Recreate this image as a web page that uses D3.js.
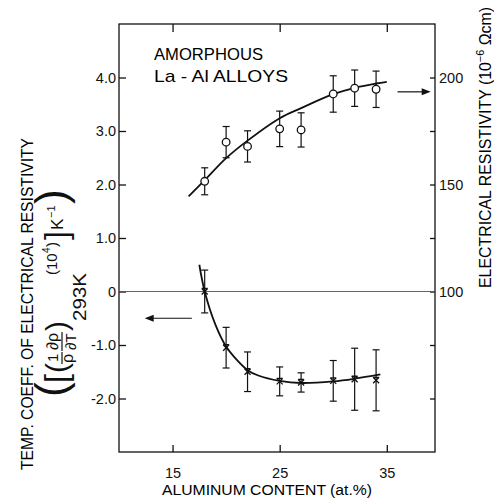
<!DOCTYPE html>
<html>
<head>
<meta charset="utf-8">
<script src="https://cdn.jsdelivr.net/npm/d3@7"></script>
<style>
  html, body { margin: 0; padding: 0; background: #fff; }
  svg { display: block; font-family: "Liberation Sans", Arial, sans-serif; }
</style>
</head>
<body>
<div id="main"></div>
<script>
'use strict';

var width = 494, height = 499;

// aluminium content (at.%)
var alContent = [18, 20, 22, 25, 27, 30, 32, 34];
// electrical resistivity (10^-6 ohm cm), open circles, right axis
var resistivity = [151.5, 169.8, 167.8, 176, 175.5, 192.3, 195, 194.5];
var resistivityErr = [6.3, 7.3, 7.3, 8.3, 8, 8.5, 8.5, 8.5];
// temp. coeff. of resistivity (10^4 K^-1), crosses, left axis
var tcr = [0, -1.05, -1.5, -1.68, -1.70, -1.67, -1.64, -1.66];
var tcrErr = [0.4, 0.38, 0.37, 0.27, 0.18, 0.38, 0.58, 0.57];

// hand drawn fit curves
var resFitX = [16.5, 18, 20, 22, 25, 27, 30, 32, 34, 35];
var resFitY = [144.4, 152, 162.3, 170.5, 181, 185.7, 192.2, 195.2, 197.2, 198];
var tcrFitX = [17.5, 18, 19, 20, 21, 22, 23, 25, 27, 30, 32, 34.4];
var tcrFitY = [0.5, 0, -0.62, -1.03, -1.28, -1.47, -1.57, -1.67, -1.71, -1.68, -1.63, -1.55];

var xTicks = [15, 25, 35];
var leftTicks = [-2, -1, 0, 1, 2, 3, 4];
var leftTickLabels = ["-2.0", "-1.0", "0", "1.0", "2.0", "3.0", "4.0"];
var rightTicks = [50, 75, 100, 125, 150, 175, 200];
var rightTickLabels = ["", "", "100", "", "150", "", "200"];

var svg = d3.select('#main').append('svg')
  .attr('width', width).attr('height', height);

var x = d3.scaleLinear().domain([10, 39.5]).range([119, 435]);
var yL = d3.scaleLinear().domain([-3, 5]).range([452, 24]);
var yR = d3.scaleLinear().domain([25, 225]).range([452, 24]);

// frame
svg.append('rect')
  .attr('x', x(10)).attr('y', yL(5))
  .attr('width', x(39.5) - x(10)).attr('height', yL(-3) - yL(5))
  .attr('fill', 'none').attr('stroke', '#111').attr('stroke-width', 1.3);

// axes (ticks point inward)
function styleAxis(g) {
  g.select('.domain').remove();
  g.selectAll('.tick line').attr('stroke', '#111').attr('stroke-width', 1.3);
  g.selectAll('.tick text').attr('fill', '#111').attr('font-size', 14.5);
}

svg.append('g').attr('transform', 'translate(0,452)')
  .call(d3.axisBottom(x).tickValues(xTicks).tickSizeInner(-7).tickSizeOuter(0).tickPadding(16))
  .call(styleAxis);
svg.append('g').attr('transform', 'translate(0,24)')
  .call(d3.axisTop(x).tickValues(xTicks).tickSizeInner(-8).tickSizeOuter(0).tickFormat(''))
  .call(styleAxis);
svg.append('g').attr('transform', 'translate(119,0)')
  .call(d3.axisLeft(yL).tickValues(leftTicks).tickSizeInner(-7).tickSizeOuter(0).tickPadding(3)
    .tickFormat(function(d, i) { return leftTickLabels[i]; }))
  .call(styleAxis);
svg.append('g').attr('transform', 'translate(435,0)')
  .call(d3.axisRight(yR).tickValues(rightTicks).tickSizeInner(-5).tickSizeOuter(0).tickPadding(4)
    .tickFormat(function(d, i) { return rightTickLabels[i]; }))
  .call(styleAxis);

// zero line
svg.append('line')
  .attr('x1', x(10)).attr('x2', x(39.5)).attr('y1', yL(0)).attr('y2', yL(0))
  .attr('stroke', '#555').attr('stroke-width', 0.9);

// fit curves
var line = d3.line().curve(d3.curveCatmullRom.alpha(0.5));
svg.append('path')
  .attr('d', line(resFitX.map(function(v, i) { return [x(v), yR(resFitY[i])]; })))
  .attr('fill', 'none').attr('stroke', '#111').attr('stroke-width', 1.8);
svg.append('path')
  .attr('d', line(tcrFitX.map(function(v, i) { return [x(v), yL(tcrFitY[i])]; })))
  .attr('fill', 'none').attr('stroke', '#111').attr('stroke-width', 1.8);

// error bars
function errorBars(ys, errs, scale) {
  var g = svg.append('g').attr('stroke', '#111').attr('stroke-width', 1.2);
  alContent.forEach(function(a, i) {
    var cx = x(a), top = scale(ys[i] + errs[i]), bot = scale(ys[i] - errs[i]);
    g.append('line').attr('x1', cx).attr('x2', cx).attr('y1', top).attr('y2', bot);
    g.append('line').attr('x1', cx - 3.5).attr('x2', cx + 3.5).attr('y1', top).attr('y2', top);
    g.append('line').attr('x1', cx - 3.5).attr('x2', cx + 3.5).attr('y1', bot).attr('y2', bot);
  });
}
errorBars(resistivity, resistivityErr, yR);
errorBars(tcr, tcrErr, yL);

// open circles
svg.append('g').selectAll('circle')
  .data(alContent).enter().append('circle')
  .attr('cx', function(d) { return x(d); })
  .attr('cy', function(d, i) { return yR(resistivity[i]); })
  .attr('r', 3.8)
  .attr('fill', '#fff').attr('stroke', '#111').attr('stroke-width', 1.3);

// crosses
svg.append('g').selectAll('path')
  .data(alContent).enter().append('path')
  .attr('d', function(d, i) {
    var cx = x(d), cy = yL(tcr[i]), s = 3;
    return 'M' + (cx - s) + ',' + (cy - s) + 'L' + (cx + s) + ',' + (cy + s) +
      'M' + (cx + s) + ',' + (cy - s) + 'L' + (cx - s) + ',' + (cy + s) +
      'M' + (cx - s) + ',' + (cy - s) + 'L' + (cx + s) + ',' + (cy - s);
  })
  .attr('fill', 'none').attr('stroke', '#111').attr('stroke-width', 1.3);

// arrows
function arrow(x1, x2, yv) {
  var dir = x2 > x1 ? 1 : -1;
  var tip = x(x2), yy = yv;
  svg.append('line').attr('x1', x(x1)).attr('x2', tip - dir * 6).attr('y1', yy).attr('y2', yy)
    .attr('stroke', '#111').attr('stroke-width', 1.2);
  svg.append('path')
    .attr('d', 'M' + tip + ',' + yy + 'L' + (tip - dir * 9) + ',' + (yy - 3.5) + 'L' + (tip - dir * 9) + ',' + (yy + 3.5) + 'Z')
    .attr('fill', '#111');
}
arrow(36.0, 39.1, yR(193.3));
arrow(16.8, 12.4, yL(-0.5));

// title
svg.append('text').attr('x', 154).attr('y', 60).attr('font-size', 17)
  .attr('textLength', 109).attr('lengthAdjust', 'spacingAndGlyphs').text('AMORPHOUS');
svg.append('text').attr('x', 154).attr('y', 81.5).attr('font-size', 17)
  .attr('textLength', 134).attr('lengthAdjust', 'spacingAndGlyphs').text('La - Al  ALLOYS');

// x title
svg.append('text').attr('x', 162).attr('y', 495).attr('font-size', 15.5)
  .attr('textLength', 210).attr('lengthAdjust', 'spacingAndGlyphs')
  .text('ALUMINUM CONTENT (at.%)');

// right title
var rt = svg.append('text').attr('transform', 'translate(491,288) rotate(-90)')
  .attr('font-size', 16).attr('textLength', 281).attr('lengthAdjust', 'spacingAndGlyphs');
rt.append('tspan').text('ELECTRICAL RESISTIVITY (10');
rt.append('tspan').attr('font-size', 11).attr('dy', -7).text('−6');
rt.append('tspan').attr('dy', 7).text(' Ωcm)');

// left title, line 1
svg.append('text').attr('transform', 'translate(33,470) rotate(-90)')
  .attr('font-size', 17).attr('textLength', 332).attr('lengthAdjust', 'spacingAndGlyphs')
  .text('TEMP. COEFF. OF ELECTRICAL  RESISTIVITY');

// left title, line 2 : ([(1/rho drho/dT)_293K (10^4)] K^-1)
var f = svg.append('g').attr('transform', 'translate(63,397) rotate(-90)').attr('fill', '#111');
function glyph(u, v, txt, size) {
  return f.append('text').attr('x', u).attr('y', v).attr('font-size', size).text(txt);
}
function bar(u1, u2, v) {
  f.append('line').attr('x1', u1).attr('x2', u2).attr('y1', v).attr('y2', v)
    .attr('stroke', '#111').attr('stroke-width', 1.2);
}
glyph(0, 3, '(', 44);
glyph(14, 4, '[', 32);
glyph(24, 4, '(', 30);
glyph(35, -5, '1', 15);
bar(33, 45, -1);
glyph(34, 10, 'ρ', 16);
glyph(47, -5, '∂ρ', 16);
bar(46, 65, -1);
glyph(47, 13, '∂T', 15);
glyph(66, 4, ')', 30);
glyph(76, 23, '293K', 18).attr('textLength', 48).attr('lengthAdjust', 'spacingAndGlyphs');
glyph(122, -6, '(10', 15);
glyph(144, -13, '4', 10);
glyph(150, -6, ')', 15);
glyph(157, 4, ']', 32);
glyph(167, 0, 'K', 17);
glyph(179, -8, '−1', 11);
glyph(193, 3, ')', 44);
</script>
</body>
</html>
